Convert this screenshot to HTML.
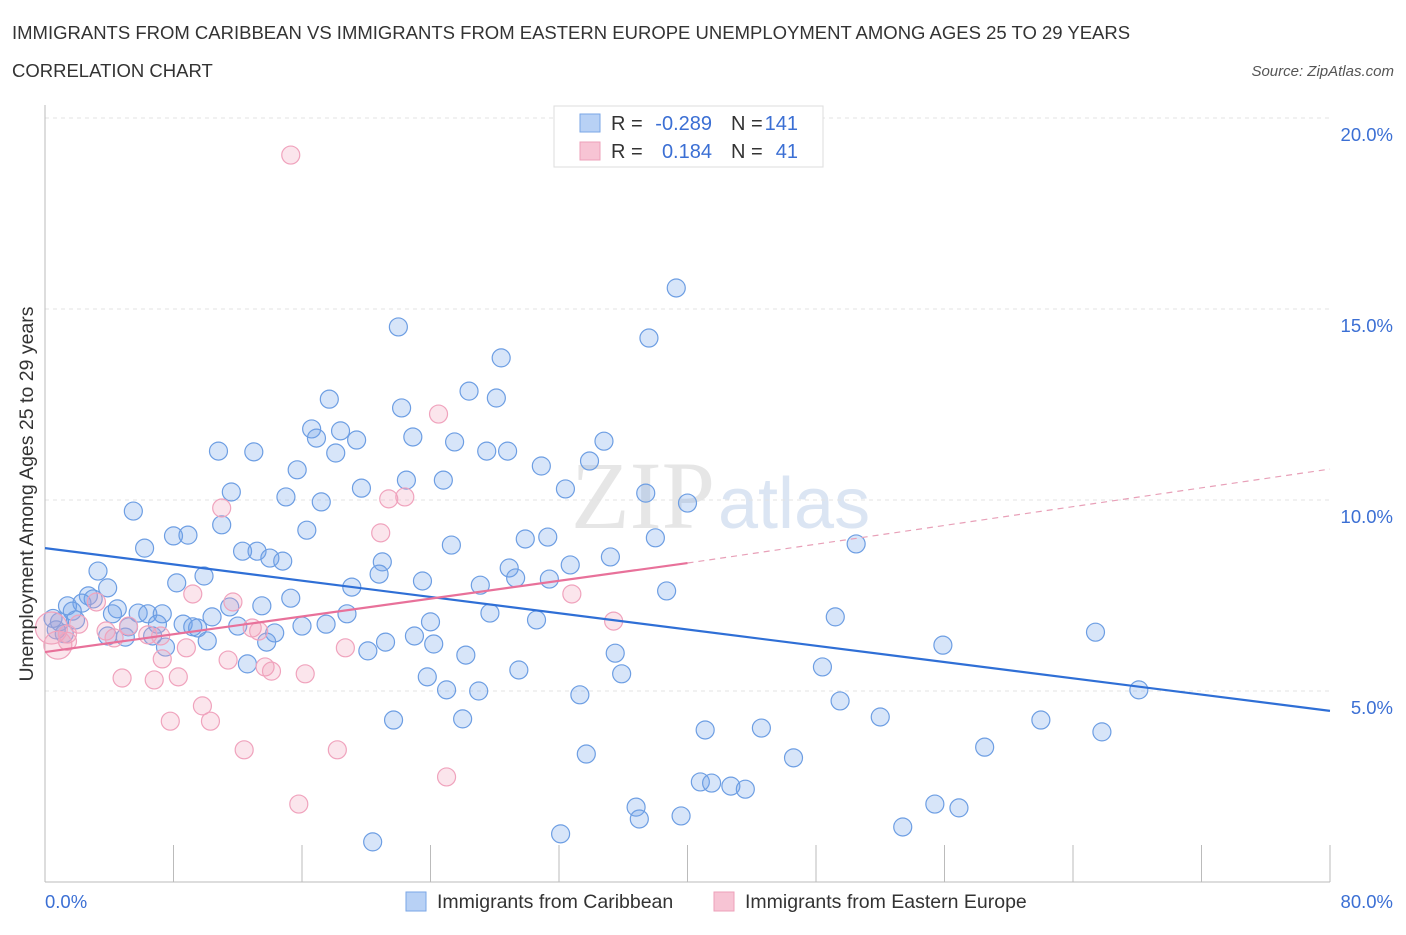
<!DOCTYPE html>
<html><head><meta charset="utf-8"><style>
body{margin:0;background:#fff;font-family:"Liberation Sans",sans-serif;}
</style></head><body>
<svg id="chart" width="1406" height="930" xmlns="http://www.w3.org/2000/svg" style="font-family:'Liberation Sans',sans-serif">
<text x="12" y="39" font-size="18.5" fill="#333">IMMIGRANTS FROM CARIBBEAN VS IMMIGRANTS FROM EASTERN EUROPE UNEMPLOYMENT AMONG AGES 25 TO 29 YEARS</text>
<text x="12" y="77" font-size="18.5" fill="#333">CORRELATION CHART</text>
<text x="1394" y="76" font-size="15" fill="#555" text-anchor="end" font-style="italic">Source: ZipAtlas.com</text>
<text x="715" y="528" font-size="96" fill="#e6e6e6" text-anchor="end" font-family="Liberation Serif">ZIP</text>
<text x="718" y="528" font-size="72" fill="#dbe5f3">atlas</text>
<g id="grid"></g>
<g id="marks"></g>
<g id="lines"></g>
<text transform="translate(33,494) rotate(-90)" font-size="19.5" fill="#333" text-anchor="middle">Unemployment Among Ages 25 to 29 years</text>
<g font-size="20" fill="#333">
<rect x="554" y="106" width="269" height="61" fill="#fff" stroke="#ddd"/>
<rect x="580" y="114" width="20" height="18" fill="#b8d1f5" stroke="#7aa6e6"/>
<text x="611" y="130">R =</text><text x="712" y="130" fill="#3b6fd4" text-anchor="end">-0.289</text>
<text x="731" y="130">N =</text><text x="798" y="130" fill="#3b6fd4" text-anchor="end">141</text>
<rect x="580" y="142" width="20" height="18" fill="#f7c4d4" stroke="#eea0ba"/>
<text x="611" y="158">R =</text><text x="712" y="158" fill="#3b6fd4" text-anchor="end">0.184</text>
<text x="731" y="158">N =</text><text x="798" y="158" fill="#3b6fd4" text-anchor="end">41</text>
</g>
<g>
<rect x="406" y="892" width="20" height="19" fill="#b8d1f5" stroke="#7aa6e6"/>
<text x="437" y="908" font-size="19.5" fill="#333">Immigrants from Caribbean</text>
<rect x="714" y="892" width="20" height="19" fill="#f7c4d4" stroke="#eea0ba"/>
<text x="745" y="908" font-size="19.5" fill="#333">Immigrants from Eastern Europe</text>
</g>
</svg>
<script>
const yTicks=[5,10,15,20];
const yTickLabels=["5.0%","10.0%","15.0%","20.0%"];
const xTicks=[0,8,16,24,32,40,48,56,64,72,80];
const blueX=[39.3,22.0,37.6,28.4,26.4,28.1,17.7,22.2,16.6,18.4,16.9,22.9,19.4,25.5,34.8,10.8,13.0,18.1,27.5,28.8,33.9,30.9,15.7,22.5,24.8,19.7,11.6,32.4,37.4,15.0,17.2,40.0,5.5,11.0,16.3,8.0,8.9,29.9,31.3,38.0,25.3,50.5,6.2,12.3,13.2,14.0,14.8,21.0,35.2,32.7,28.9,20.8,3.3,29.3,9.9,23.5,31.4,8.2,19.1,27.1,3.9,38.7,2.7,3.0,15.3,1.4,2.3,4.5,11.5,13.5,27.7,18.8,5.8,6.4,7.3,10.4,1.7,4.2,49.2,30.6,24.0,1.9,0.9,8.6,7.0,9.2,12.0,17.5,16.0,5.2,9.5,65.4,0.7,14.3,23.0,5.0,6.7,3.9,10.1,21.2,13.8,24.2,55.9,7.5,20.1,35.5,26.2,12.6,48.4,29.5,35.9,23.8,68.1,25.0,27.0,33.3,49.5,52.0,21.7,26.0,62.0,65.8,41.1,44.6,58.5,33.7,46.6,40.8,41.5,42.7,43.6,36.8,55.4,56.9,37.0,39.6,53.4,32.1,20.4,0.5,1.2];
const blueY=[15.55,14.53,14.24,13.72,12.85,12.67,12.64,12.41,11.86,11.81,11.62,11.65,11.57,11.52,11.54,11.28,11.26,11.23,11.28,11.28,11.02,10.89,10.79,10.52,10.52,10.31,10.21,10.29,10.18,10.08,9.95,9.92,9.71,9.35,9.21,9.06,9.08,8.98,9.03,9.01,8.82,8.85,8.74,8.66,8.66,8.48,8.40,8.38,8.51,8.30,8.22,8.06,8.14,7.96,8.01,7.88,7.93,7.83,7.72,7.77,7.70,7.62,7.49,7.41,7.43,7.23,7.30,7.15,7.20,7.23,7.04,7.02,7.04,7.02,7.02,6.94,7.09,7.02,6.94,6.86,6.81,6.86,6.81,6.75,6.75,6.68,6.70,6.75,6.70,6.68,6.65,6.54,6.60,6.52,6.44,6.41,6.44,6.44,6.31,6.28,6.28,6.23,6.20,6.15,6.05,5.99,5.94,5.71,5.63,5.55,5.45,5.37,5.03,5.03,5.00,4.90,4.74,4.32,4.24,4.27,4.24,3.93,3.98,4.03,3.53,3.35,3.25,2.62,2.59,2.51,2.43,1.96,2.04,1.94,1.65,1.73,1.44,1.26,1.05,6.9,6.5];
const pinkX=[15.3,24.5,21.4,22.4,11.0,20.9,32.8,9.2,11.7,3.2,35.4,2.1,5.2,3.8,12.9,13.3,6.4,7.2,4.3,1.4,0.4,0.8,8.8,18.7,7.3,11.4,13.7,14.1,16.2,4.8,6.8,8.3,9.8,7.8,10.3,12.4,18.2,25.0,15.8,1.4];
const pinkY=[19.03,12.25,10.03,10.08,9.79,9.14,7.54,7.54,7.33,7.33,6.83,6.75,6.70,6.57,6.65,6.57,6.47,6.44,6.39,6.49,6.65,6.20,6.13,6.13,5.84,5.81,5.63,5.52,5.45,5.34,5.29,5.37,4.61,4.21,4.21,3.46,3.46,2.75,2.04,6.3];
const pinkR=[9,9,9,9,9,9,9,9,9,9,9,9,9,9,9,9,9,9,9,9,16,14,9,9,9,9,9,9,9,9,9,9,9,9,9,9,9,9,9,9];
const blueTrend=[[0,8.74],[80,4.48]];
const pinkTrend=[[0,6.02],[40,8.35]];
const pinkTrendExt=[[40,8.35],[80,10.81]];
(function(){
const X=v=>45+v*16.0625, Y=v=>882-v*38.2;
const NS="http://www.w3.org/2000/svg";
function mk(tag,attrs,parent){const e=document.createElementNS(NS,tag);for(const k in attrs)e.setAttribute(k,attrs[k]);parent.appendChild(e);return e;}
const grid=document.getElementById('grid'),marks=document.getElementById('marks'),lines=document.getElementById('lines');
yTicks.forEach((t,i)=>{
 const l=mk('line',{x1:45,x2:1330,y1:Y(t),y2:Y(t),stroke:'#e3e3e3','stroke-dasharray':'4,4'},grid);
 
 
 const tx=mk('text',{x:1393,y:Y(t)+23,'font-size':18.5,fill:'#3b6fd4','text-anchor':'end'},grid);
 tx.textContent=yTickLabels[i];
 
 
});
const topLine=mk('line',{x1:45,x2:1330,y1:118,y2:118,stroke:'#e3e3e3','stroke-dasharray':'4,4'},grid);


const ya=mk('line',{x1:45,x2:45,y1:105,y2:882,stroke:'#bbb'},grid);


const xa=mk('line',{x1:45,x2:1330,y1:882,y2:882,stroke:'#bbb'},grid);


xTicks.forEach(t=>{
 const l=mk('line',{x1:X(t),x2:X(t),y1:845,y2:882,stroke:'#bbb'},grid);
 
 
});
const xl0=mk('text',{x:45,y:908,'font-size':18.5,fill:'#3b6fd4'},grid);xl0.textContent='0.0%';


const xl1=mk('text',{x:1393,y:908,'font-size':18.5,fill:'#3b6fd4','text-anchor':'end'},grid);xl1.textContent='80.0%';


blueX.forEach((v,i)=>{
 const c=mk('circle',{cx:X(v),cy:Y(blueY[i]),r:9,fill:'rgba(110,160,235,0.28)',stroke:'#6d9ee3','stroke-width':1.2},marks);
 
 
});
pinkX.forEach((v,i)=>{
 const c=mk('circle',{cx:X(v),cy:Y(pinkY[i]),r:pinkR[i],fill:'rgba(242,160,188,0.28)',stroke:'#f0a3bd','stroke-width':1.2},marks);
 
 
});
function tl(p,st,name){const l=mk('line',Object.assign({x1:X(p[0][0]),y1:Y(p[0][1]),x2:X(p[1][0]),y2:Y(p[1][1])},st),lines);
 
 }
tl(blueTrend,{stroke:'#2f6fd6','stroke-width':2.2},'caribbean-trendline');
tl(pinkTrend,{stroke:'#e8719a','stroke-width':2.2},'eastern-europe-trendline');
tl(pinkTrendExt,{stroke:'#e8a0b8','stroke-width':1.2,'stroke-dasharray':'6,5'},'eastern-europe-trendline-extension');
})();
</script>
</body></html>
